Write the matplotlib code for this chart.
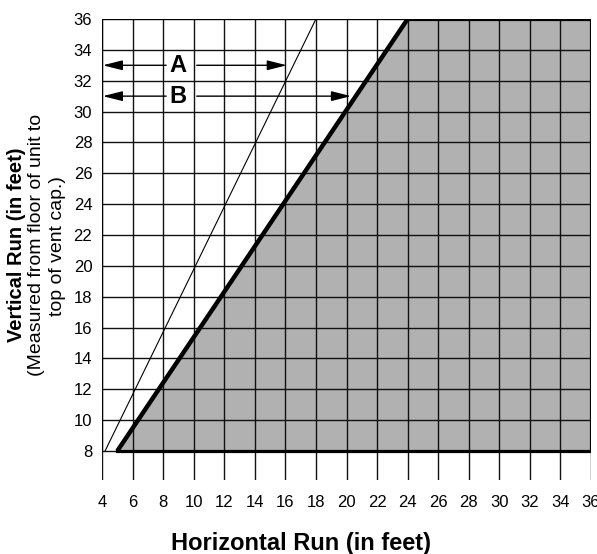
import matplotlib
matplotlib.use('Agg')
import matplotlib.pyplot as plt
from matplotlib import font_manager
import numpy as np

plt.rcParams['font.family'] = ['Liberation Sans', 'DejaVu Sans']

# grid / tick values
x_ticks = list(range(4, 37, 2))
y_ticks = list(range(8, 37, 2))

# thin reference line (A) and heavy limit line (B)
thin_x = [4.2, 18]
thin_y = [8, 36]
limit_x = [5, 24]
limit_y = [8, 36]

# dimension arrows
arrow_labels = ['A', 'B']
arrow_y = [33, 31]
arrow_tip = [16.1, 20.3]
label_x = 9

names = {f.name for f in font_manager.fontManager.ttflist}
tick_font = 'Liberation Sans Narrow' if 'Liberation Sans Narrow' in names else 'Liberation Sans'
tick_size = 13 if tick_font == 'Liberation Sans Narrow' else 12

fig = plt.figure(figsize=(5.97, 5.54), dpi=100)
ax = fig.add_axes([102 / 597, 74 / 554, 489 / 597, 461 / 554])
y_bottom = 6.12
ax.set_xlim(4, 36)
ax.set_ylim(y_bottom, 36)
for s in ax.spines.values():
    s.set_visible(False)

# shaded region to the right of the limit line
poly_x = limit_x + [36, 36]
poly_y = limit_y + [36, 8]
ax.fill(poly_x, poly_y, color='#b1b1b1', lw=0, zorder=1)

# grid
ax.vlines(x_ticks, y_bottom, 36, color='#111111', lw=1.0, zorder=2)
ax.hlines(y_ticks, 4, 36, color='#111111', lw=1.0, zorder=2)

# borders
ax.plot([4, 4], [8, 36], color='k', lw=1.6, zorder=3)
ax.plot([4, 24], [36, 36], color='k', lw=1.4, zorder=3)
ax.plot([24, 36, 36, limit_x[0]], [36, 36, 8, 8], color='k', lw=2.3,
        zorder=3, solid_joinstyle='miter')

# diagonals
ax.plot(thin_x, thin_y, color='k', lw=0.8, zorder=3)
ax.plot(limit_x, limit_y, color='k', lw=3.2, zorder=4, solid_capstyle='butt')

# A / B arrows
astyle = '-|>,head_length=1.2,head_width=0.3'
for lab, yy, tip in zip(arrow_labels, arrow_y, arrow_tip):
    ax.annotate('', xy=(4.05, yy), xytext=(8.2, yy),
                arrowprops=dict(arrowstyle=astyle, color='k', lw=1.0,
                                shrinkA=0, shrinkB=0), zorder=5)
    ax.annotate('', xy=(tip, yy), xytext=(10.2, yy),
                arrowprops=dict(arrowstyle=astyle, color='k', lw=1.0,
                                shrinkA=0, shrinkB=0), zorder=5)
    ax.text(label_x, yy, lab, ha='center', va='center', fontsize=17,
            fontweight='bold', zorder=5)

ax.set_xticks(x_ticks)
ax.set_yticks(y_ticks)
ax.tick_params(axis='both', length=0, labelsize=tick_size)
ax.tick_params(axis='x', pad=11)
ax.tick_params(axis='y', pad=7)
for t in ax.get_xticklabels() + ax.get_yticklabels():
    t.set_fontfamily([tick_font, 'DejaVu Sans'])

fig.text(301 / 597, 4 / 554, 'Horizontal Run (in feet)', ha='center',
         va='baseline', fontsize=17, fontweight='bold')
fig.text(17 / 597, 1 - 245 / 554, 'Vertical Run (in feet)', rotation=90,
         ha='center', va='center', fontsize=14.5, fontweight='bold')
fig.text(37 / 597, 1 - 245 / 554, '(Measured from floor of unit to',
         rotation=90, ha='center', va='center', fontsize=14)
fig.text(57 / 597, 1 - 246 / 554, 'top of vent cap.)', rotation=90,
         ha='center', va='center', fontsize=14)

fig.savefig('out.png', dpi=100)
